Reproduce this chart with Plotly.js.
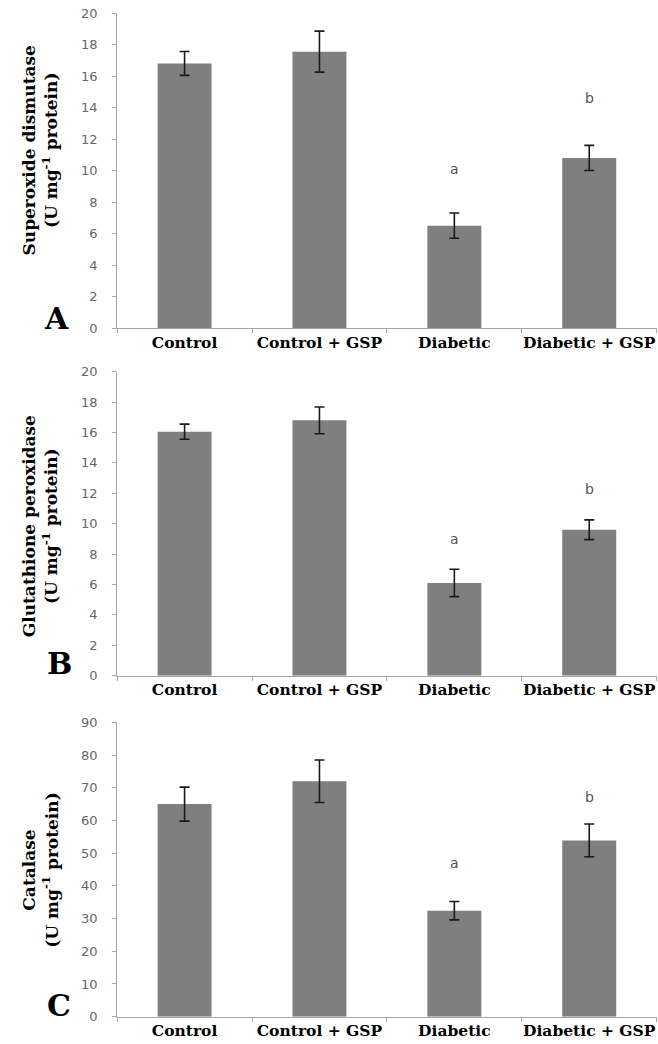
<!DOCTYPE html>
<html>
<head>
<meta charset="utf-8">
<script src="https://cdn.plot.ly/plotly-3.0.1.min.js"></script>
<style>html,body{margin:0;padding:0;background:#fff;}#chart{width:658px;height:1044px;}</style>
</head>
<body>
<div id="chart"></div>
<script>
// ---- data ----
const categories = ['Control', 'Control + GSP', 'Diabetic', 'Diabetic + GSP'];

const sodMean = [16.8, 17.55, 6.5, 10.8];
const sodErr  = [0.76, 1.3, 0.8, 0.8];
const gpxMean = [16.05, 16.8, 6.1, 9.6];
const gpxErr  = [0.5, 0.88, 0.9, 0.65];
const catMean = [65.0, 72.0, 32.4, 53.9];
const catErr  = [5.2, 6.5, 2.8, 5.0];

const sigLetters = ['', '', 'a', 'b'];
const sodSigY = [null, null, 10.1, 14.6];
const gpxSigY = [null, null, 9.0, 12.3];
const catSigY = [null, null, 47.1, 67.1];

const yTitles = ['Superoxide dismutase', 'Glutathione peroxidase', 'Catalase'];
const panelLetters = ['A', 'B', 'C'];

// ---- styling ----
const barColor = '#7f7f7f';
const axisGray = '#a6a6a6';
const serif = 'DejaVu Serif';
const sans = 'DejaVu Sans';

const panels = [
  {mean: sodMean, err: sodErr, sig: sodSigY, range: [0, 20], dtick: 2, dom: [0.6858, 0.9875], titleY: 0.856, letterY: 0.695, letterX: 0.086},
  {mean: gpxMean, err: gpxErr, sig: gpxSigY, range: [0, 20], dtick: 2, dom: [0.3528, 0.6440], titleY: 0.496, letterY: 0.364, letterX: 0.091},
  {mean: catMean, err: catErr, sig: catSigY, range: [0, 90], dtick: 10, dom: [0.0262, 0.3081], titleY: 0.167, letterY: 0.037, letterX: 0.090}
];

const data = [];
const annotations = [];
const layout = {
  width: 658, height: 1044,
  margin: {l: 0, r: 0, t: 0, b: 0},
  paper_bgcolor: '#fff', plot_bgcolor: '#fff',
  showlegend: false,
  bargap: 0.6
};

panels.forEach((p, i) => {
  const sfx = i === 0 ? '' : String(i + 1);
  data.push({
    type: 'bar',
    x: categories,
    y: p.mean,
    xaxis: 'x' + sfx,
    yaxis: 'y' + sfx,
    marker: {color: barColor, line: {width: 0}},
    error_y: {type: 'data', array: p.err, visible: true, color: '#1a1a1a', thickness: 1.6, width: 5},
    hoverinfo: 'x+y'
  });
  layout['xaxis' + sfx] = {
    domain: [0.178, 0.998],
    anchor: 'y' + sfx,
    type: 'category',
    showline: true, linecolor: axisGray, linewidth: 1,
    ticks: 'outside', tickson: 'boundaries', ticklen: 4, tickcolor: axisGray,
    showgrid: false, zeroline: false,
    tickangle: 0,
    ticklabelstandoff: 0,
    tickfont: {family: serif, size: 15.5, color: '#000', weight: 'bold'}
  };
  layout['yaxis' + sfx] = {
    domain: p.dom,
    anchor: 'x' + sfx,
    range: p.range, dtick: p.dtick, tick0: 0,
    showline: true, linecolor: axisGray, linewidth: 1,
    ticks: 'outside', ticklen: 4, tickcolor: axisGray,
    showgrid: false, zeroline: false,
    ticklabelstandoff: 12,
    tickfont: {family: sans, size: 13, color: '#666'}
  };
  // y axis title (two lines)
  annotations.push({
    xref: 'paper', yref: 'paper', x: 0.061, y: p.titleY,
    xanchor: 'center', yanchor: 'middle', textangle: -90, showarrow: false,
    text: yTitles[i] + '<br>(U mg<sup>-1</sup> protein)',
    font: {family: serif, size: 17, color: '#000', weight: 'bold'}
  });
  // panel letter
  annotations.push({
    xref: 'paper', yref: 'paper', x: p.letterX, y: p.letterY,
    xanchor: 'center', yanchor: 'middle', showarrow: false,
    text: panelLetters[i],
    font: {family: serif, size: 30, color: '#000', weight: 'bold'}
  });
  // significance letters
  categories.forEach((c, j) => {
    if (sigLetters[j]) {
      annotations.push({
        xref: 'x' + sfx, yref: 'y' + sfx, x: c, y: p.sig[j],
        xanchor: 'center', yanchor: 'middle', showarrow: false,
        text: sigLetters[j],
        font: {family: sans, size: 14, color: '#555'}
      });
    }
  });
});
layout.annotations = annotations;

Plotly.newPlot('chart', data, layout, {displayModeBar: false, staticPlot: true});
</script>
</body>
</html>
